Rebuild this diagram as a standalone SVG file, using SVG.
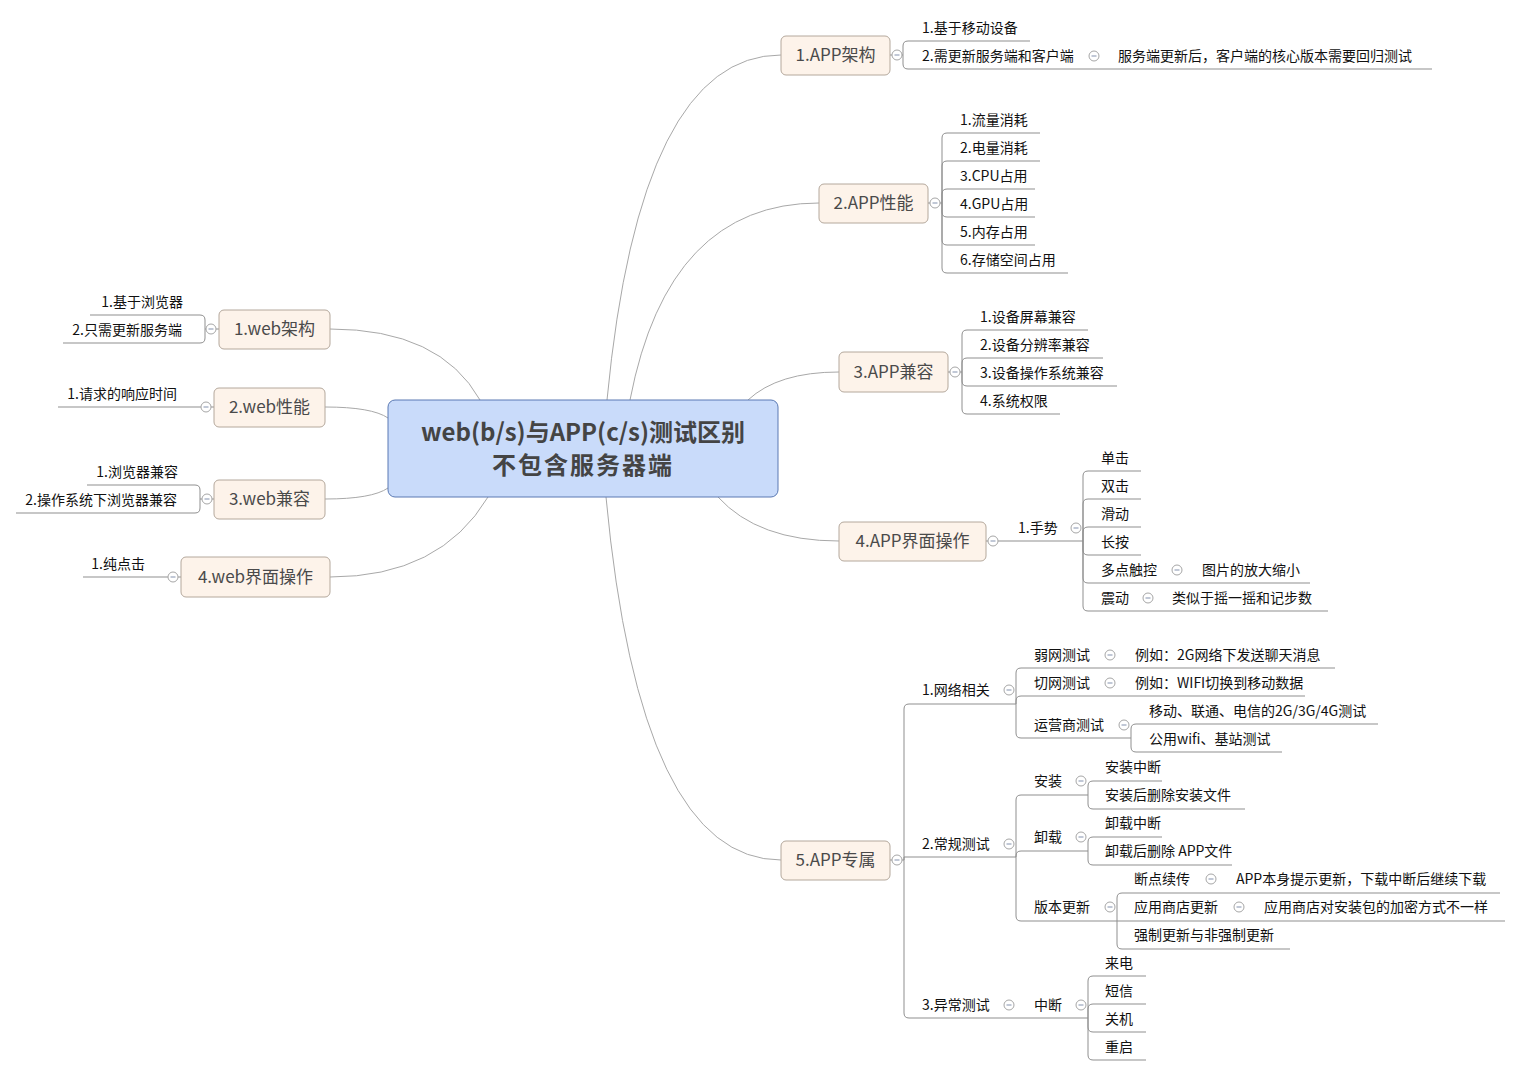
<svg xmlns="http://www.w3.org/2000/svg" width="1521" height="1076" viewBox="0 0 1521 1076">
<style>
text{font-family:"Noto Sans CJK SC","Noto Sans",sans-serif;}
.t{font-size:14px;fill:#111;}
.l{text-anchor:end;}
.b{font-size:17px;fill:#4a4a4a;text-anchor:middle;}
.bn{fill:#fdf3ea;stroke:#b4a89c;stroke-width:1;}
.cn{fill:#c9dbfa;stroke:#5a79b3;stroke-width:1;}
.ct{font-size:24px;fill:#444;text-anchor:middle;font-weight:bold;}
.c path{fill:none;stroke:#8f8f8f;stroke-width:1;}
.c .k{stroke:#a8a8a8;}
.m circle{fill:#fff;stroke:#a6a6a6;stroke-width:1;}
.m path{stroke:#8391ad;stroke-width:1;fill:none;}
</style>
<rect width="1521" height="1076" fill="#fff"/>
<g id="connectors" class="c">
<path class="k" d="M607,400 Q640,55 781,55"/>
<path class="k" d="M630,400 Q668,203 819,203"/>
<path class="k" d="M748,400 Q778,372 839,372"/>
<path class="k" d="M718,497 Q758,541 839,541"/>
<path class="k" d="M606,497 Q640,860 781,860"/>
<path class="k" d="M480,400 Q440,329 330,329"/>
<path class="k" d="M388,418 Q372,407 325,407"/>
<path class="k" d="M388,488 Q372,499 325,499"/>
<path class="k" d="M488,497 Q440,577 330,577"/>
<path d="M890,55 H892 M902,55 H903"/>
<path d="M903,55 V46 Q903,41 908,41 H1030"/>
<path d="M903,55 V64 Q903,69 908,69 H1432"/>
<path d="M928,203 H930 M940,203 H942"/>
<path d="M942,203 V138 Q942,133 947,133 H1040"/>
<path d="M942,203 V166 Q942,161 947,161 H1040"/>
<path d="M942,203 V194 Q942,189 947,189 H1035"/>
<path d="M942,203 V212 Q942,217 947,217 H1035"/>
<path d="M942,203 V240 Q942,245 947,245 H1035"/>
<path d="M942,203 V268 Q942,273 947,273 H1068"/>
<path d="M948,372 H950 M960,372 H962"/>
<path d="M962,372 V335 Q962,330 967,330 H1088"/>
<path d="M962,372 V363 Q962,358 967,358 H1103"/>
<path d="M962,372 V381 Q962,386 967,386 H1117"/>
<path d="M962,372 V409 Q962,414 967,414 H1060"/>
<path d="M986,541 H988 M998,541 H1083"/>
<path d="M1083,541 V476 Q1083,471 1088,471 H1141"/>
<path d="M1083,541 V504 Q1083,499 1088,499 H1141"/>
<path d="M1083,541 V532 Q1083,527 1088,527 H1141"/>
<path d="M1083,541 V550 Q1083,555 1088,555 H1141"/>
<path d="M1083,541 V578 Q1083,583 1088,583 H1310"/>
<path d="M1083,541 V606 Q1083,611 1088,611 H1328"/>
<path d="M890,860 H892 M902,860 H904"/>
<path d="M904,860 V709 Q904,704 909,704 H1016"/>
<path d="M904,860 V857 H1016"/>
<path d="M904,860 V1013 Q904,1018 909,1018 H1088"/>
<path d="M1016,704 V673 Q1016,668 1021,668 H1335"/>
<path d="M1016,704 V701 Q1016,696 1021,696 H1305"/>
<path d="M1016,704 V733 Q1016,738 1021,738 H1131"/>
<path d="M1131,738 V729 Q1131,724 1136,724 H1378"/>
<path d="M1131,738 V747 Q1131,752 1136,752 H1282"/>
<path d="M1016,857 V800 Q1016,795 1021,795 H1088"/>
<path d="M1016,857 V856 Q1016,851 1021,851 H1088"/>
<path d="M1016,857 V916 Q1016,921 1021,921 H1117"/>
<path d="M1088,795 V786 Q1088,781 1093,781 H1162"/>
<path d="M1088,795 V804 Q1088,809 1093,809 H1245"/>
<path d="M1088,851 V842 Q1088,837 1093,837 H1162"/>
<path d="M1088,851 V860 Q1088,865 1093,865 H1232"/>
<path d="M1117,921 V898 Q1117,893 1122,893 H1500"/>
<path d="M1117,921 H1505"/>
<path d="M1117,921 V944 Q1117,949 1122,949 H1290"/>
<path d="M1088,1018 V981 Q1088,976 1093,976 H1146"/>
<path d="M1088,1018 V1009 Q1088,1004 1093,1004 H1146"/>
<path d="M1088,1018 V1027 Q1088,1032 1093,1032 H1146"/>
<path d="M1088,1018 V1055 Q1088,1060 1093,1060 H1146"/>
<path d="M219,329 H216 M206,329 H205"/>
<path d="M205,329 V320 Q205,315 200,315 H90"/>
<path d="M205,329 V338 Q205,343 200,343 H63"/>
<path d="M214,407 H211 M201,407 H58"/>
<path d="M214,499 H212 M202,499 H200"/>
<path d="M200,499 V490 Q200,485 195,485 H87"/>
<path d="M200,499 V508 Q200,513 195,513 H16"/>
<path d="M181,577 H178 M168,577 H83"/>
</g>
<g id="markers" class="m">
<circle cx="897" cy="55" r="5"/><path d="M894.5,55 H899.5"/>
<circle cx="1094" cy="56" r="5"/><path d="M1091.5,56 H1096.5"/>
<circle cx="935" cy="203" r="5"/><path d="M932.5,203 H937.5"/>
<circle cx="955" cy="372" r="5"/><path d="M952.5,372 H957.5"/>
<circle cx="993" cy="541" r="5"/><path d="M990.5,541 H995.5"/>
<circle cx="1076" cy="528" r="5"/><path d="M1073.5,528 H1078.5"/>
<circle cx="1177" cy="570" r="5"/><path d="M1174.5,570 H1179.5"/>
<circle cx="1148" cy="598" r="5"/><path d="M1145.5,598 H1150.5"/>
<circle cx="897" cy="860" r="5"/><path d="M894.5,860 H899.5"/>
<circle cx="1009" cy="690" r="5"/><path d="M1006.5,690 H1011.5"/>
<circle cx="1110" cy="655" r="5"/><path d="M1107.5,655 H1112.5"/>
<circle cx="1110" cy="683" r="5"/><path d="M1107.5,683 H1112.5"/>
<circle cx="1124" cy="725" r="5"/><path d="M1121.5,725 H1126.5"/>
<circle cx="1009" cy="844" r="5"/><path d="M1006.5,844 H1011.5"/>
<circle cx="1081" cy="781" r="5"/><path d="M1078.5,781 H1083.5"/>
<circle cx="1081" cy="837" r="5"/><path d="M1078.5,837 H1083.5"/>
<circle cx="1110" cy="907" r="5"/><path d="M1107.5,907 H1112.5"/>
<circle cx="1211" cy="879" r="5"/><path d="M1208.5,879 H1213.5"/>
<circle cx="1239" cy="907" r="5"/><path d="M1236.5,907 H1241.5"/>
<circle cx="1009" cy="1005" r="5"/><path d="M1006.5,1005 H1011.5"/>
<circle cx="1081" cy="1005" r="5"/><path d="M1078.5,1005 H1083.5"/>
<circle cx="211" cy="329" r="5"/><path d="M208.5,329 H213.5"/>
<circle cx="206" cy="407" r="5"/><path d="M203.5,407 H208.5"/>
<circle cx="207" cy="499" r="5"/><path d="M204.5,499 H209.5"/>
<circle cx="173" cy="577" r="5"/><path d="M170.5,577 H175.5"/>
</g>
<g id="central">
<rect class="cn" x="388" y="400" width="390" height="97" rx="7"/>
<text class="ct"><tspan x="583" y="441">web(b/s)与APP(c/s)测试区别</tspan><tspan x="583" y="474" letter-spacing="2">不包含服务器端</tspan></text>
</g>
<g id="app-arch">
<rect class="bn" x="781" y="36" width="109" height="39" rx="5"/>
<text class="b" x="835.5" y="61">1.APP架构</text>
<text class="t" x="922" y="33">1.基于移动设备</text>
<text class="t" x="922" y="61">2.需更新服务端和客户端</text>
<text class="t" x="1118" y="61">服务端更新后，客户端的核心版本需要回归测试</text>
</g>
<g id="app-perf">
<rect class="bn" x="819" y="184" width="109" height="39" rx="5"/>
<text class="b" x="873.5" y="209">2.APP性能</text>
<text class="t" x="960" y="125">1.流量消耗</text>
<text class="t" x="960" y="153">2.电量消耗</text>
<text class="t" x="960" y="181">3.CPU占用</text>
<text class="t" x="960" y="209">4.GPU占用</text>
<text class="t" x="960" y="237">5.内存占用</text>
<text class="t" x="960" y="265">6.存储空间占用</text>
</g>
<g id="app-compat">
<rect class="bn" x="839" y="352" width="109" height="40" rx="5"/>
<text class="b" x="893.5" y="378">3.APP兼容</text>
<text class="t" x="980" y="322">1.设备屏幕兼容</text>
<text class="t" x="980" y="350">2.设备分辨率兼容</text>
<text class="t" x="980" y="378">3.设备操作系统兼容</text>
<text class="t" x="980" y="406">4.系统权限</text>
</g>
<g id="app-ui">
<rect class="bn" x="839" y="522" width="147" height="39" rx="5"/>
<text class="b" x="912.5" y="547">4.APP界面操作</text>
<text class="t" x="1018" y="533">1.手势</text>
<text class="t" x="1101" y="463">单击</text>
<text class="t" x="1101" y="491">双击</text>
<text class="t" x="1101" y="519">滑动</text>
<text class="t" x="1101" y="547">长按</text>
<text class="t" x="1101" y="575">多点触控</text>
<text class="t" x="1202" y="575">图片的放大缩小</text>
<text class="t" x="1101" y="603">震动</text>
<text class="t" x="1172" y="603">类似于摇一摇和记步数</text>
</g>
<g id="app-special">
<rect class="bn" x="781" y="841" width="109" height="39" rx="5"/>
<text class="b" x="835.5" y="866">5.APP专属</text>
<text class="t" x="922" y="695">1.网络相关</text>
<text class="t" x="1034" y="660">弱网测试</text>
<text class="t" x="1135" y="660">例如：2G网络下发送聊天消息</text>
<text class="t" x="1034" y="688">切网测试</text>
<text class="t" x="1135" y="688">例如：WIFI切换到移动数据</text>
<text class="t" x="1034" y="730">运营商测试</text>
<text class="t" x="1149" y="716">移动、联通、电信的2G/3G/4G测试</text>
<text class="t" x="1149" y="744">公用wifi、基站测试</text>
<text class="t" x="922" y="849">2.常规测试</text>
<text class="t" x="1034" y="786">安装</text>
<text class="t" x="1105" y="772">安装中断</text>
<text class="t" x="1105" y="800">安装后删除安装文件</text>
<text class="t" x="1034" y="842">卸载</text>
<text class="t" x="1105" y="828">卸载中断</text>
<text class="t" x="1105" y="856">卸载后删除 APP文件</text>
<text class="t" x="1034" y="912">版本更新</text>
<text class="t" x="1134" y="884">断点续传</text>
<text class="t" x="1236" y="884">APP本身提示更新，下载中断后继续下载</text>
<text class="t" x="1134" y="912">应用商店更新</text>
<text class="t" x="1264" y="912">应用商店对安装包的加密方式不一样</text>
<text class="t" x="1134" y="940">强制更新与非强制更新</text>
<text class="t" x="922" y="1010">3.异常测试</text>
<text class="t" x="1034" y="1010">中断</text>
<text class="t" x="1105" y="968">来电</text>
<text class="t" x="1105" y="996">短信</text>
<text class="t" x="1105" y="1024">关机</text>
<text class="t" x="1105" y="1052">重启</text>
</g>
<g id="web-arch">
<rect class="bn" x="219" y="310" width="111" height="39" rx="5"/>
<text class="b" x="274.5" y="335">1.web架构</text>
<text class="t l" x="183" y="307">1.基于浏览器</text>
<text class="t l" x="182" y="335">2.只需更新服务端</text>
</g>
<g id="web-perf">
<rect class="bn" x="214" y="388" width="111" height="39" rx="5"/>
<text class="b" x="269.5" y="413">2.web性能</text>
<text class="t l" x="177" y="399">1.请求的响应时间</text>
</g>
<g id="web-compat">
<rect class="bn" x="214" y="480" width="111" height="39" rx="5"/>
<text class="b" x="269.5" y="505">3.web兼容</text>
<text class="t l" x="178" y="477">1.浏览器兼容</text>
<text class="t l" x="177" y="505">2.操作系统下浏览器兼容</text>
</g>
<g id="web-ui">
<rect class="bn" x="181" y="557" width="149" height="40" rx="5"/>
<text class="b" x="255.5" y="583">4.web界面操作</text>
<text class="t l" x="145" y="569">1.纯点击</text>
</g>
</svg>
